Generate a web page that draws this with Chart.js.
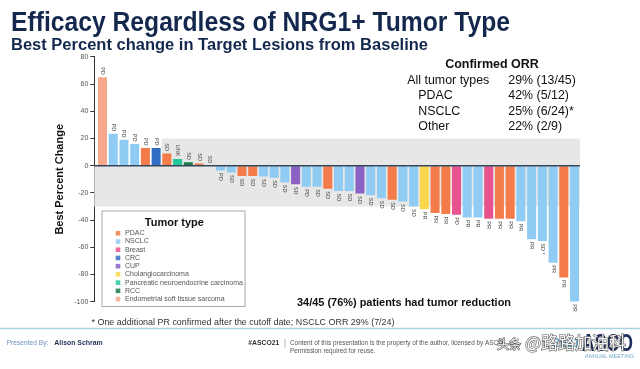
<!DOCTYPE html>
<html><head><meta charset="utf-8">
<script src="https://cdn.jsdelivr.net/npm/chart.js@4.4.1/dist/chart.umd.min.js"></script>
<style>html,body{margin:0;padding:0;background:#fff;overflow:hidden}#wrap{position:relative;width:640px;height:369px}</style>
</head><body><div id="wrap"><canvas id="c" width="640" height="369"></canvas></div>
<script>
// ---------- DATA ----------
const patients = Array.from({length:45}, (_, i) => 'Pt ' + (i + 1));
const bestChange = [65, 23.5, 19, 16, 13, 13, 9, 5, 2.5, 1.7, 0, -3.5, -5, -7.6, -7.6, -8, -8.8, -12.2, -13.7, -15.4,
  -15.4, -17, -18.6, -18.6, -20.5, -21.8, -24, -25, -26.4, -30, -32, -34.7, -35.5, -36, -38, -38, -39, -39, -39, -40.8,
  -54, -55.3, -71.4, -82.2, -100];
const tumorOfPatient = ['Endometrial soft tissue sarcoma','NSCLC','NSCLC','NSCLC','PDAC','CRC','PDAC',
  'Pancreatic neuroendocrine carcinoma','RCC','PDAC','NSCLC','NSCLC','NSCLC','PDAC','PDAC','NSCLC','NSCLC','NSCLC','CUP','NSCLC',
  'NSCLC','PDAC','NSCLC','NSCLC','CUP','NSCLC','NSCLC','PDAC','NSCLC','NSCLC','Cholangiocarcinoma','PDAC','PDAC','Breast','NSCLC',
  'NSCLC','Breast','PDAC','PDAC','NSCLC','NSCLC','NSCLC','NSCLC','PDAC','NSCLC'];
const responseLabels = ['PD','PD','PD','PD','PD','PD','SD','UNK','SD','SD','SD','PD','SD','SD','SD','SD','SD','SD','SD','PD',
  'SD','SD','SD','SD','SD','SD','SD','SD','SD','SD','PR','PR','PR','PD','PR','PR','PR','PR','PR','PR','PR','SD *','PR','PR','PR'];
const tumorTypes = ['PDAC','NSCLC','Breast','CRC','CUP','Cholangiocarcinoma','Pancreatic neuroendocrine carcinoma','RCC','Endometrial soft tissue sarcoma'];
const typeColors = ['#F47C4A','#8FCBF3','#E8528E','#2F6EC4','#8B62C4','#F9D84E','#22C79B','#19794A','#F6A98A'];
const yTickValues = [80, 60, 40, 20, 0, -20, -40, -60, -80, -100];
const orrLabels = ['All tumor types','PDAC','NSCLC','Other'];
const orrValues = ['29% (13/45)','42% (5/12)','25% (6/24)*','22% (2/9)'];
const bandUpper = 20, bandLower = -30;

// ---------- HELPERS ----------
const FONT = '"Liberation Sans", Arial, sans-serif';
function txt(ctx, s, x, y, o) {
  ctx.save();
  ctx.font = (o.weight || 'normal') + ' ' + o.size + 'px ' + (o.family || FONT);
  ctx.fillStyle = o.color || '#000';
  ctx.textBaseline = o.baseline || 'alphabetic';
  ctx.textAlign = o.align || 'left';
  const w = ctx.measureText(s).width;
  const sx = o.width ? o.width / w : 1;
  ctx.translate(x, y);
  if (o.rotate) ctx.rotate(o.rotate);
  ctx.scale(sx, 1);
  ctx.fillText(s, 0, 0);
  ctx.restore();
}
const colorOf = t => typeColors[tumorTypes.indexOf(t)];

const decor = {
  id: 'decor',
  beforeDatasetsDraw(chart) {
    const {ctx, chartArea: a, scales: {x, y}} = chart;
    ctx.save();
    ctx.fillStyle = '#E7E7E7';
    const y20 = y.getPixelForValue(bandUpper), y0 = y.getPixelForValue(0), y30 = y.getPixelForValue(bandLower);
    const xs = x.getPixelForValue(5.5);
    ctx.fillRect(xs, y20, a.right - xs, y0 - y20);
    ctx.fillRect(a.left, y0, a.right - a.left, y30 - y0);
    ctx.restore();
  },
  afterDatasetsDraw(chart) {
    const {ctx, chartArea: a, scales: {x, y}} = chart;
    const y0 = y.getPixelForValue(0);
    // zero line
    ctx.save();
    ctx.strokeStyle = '#34465A';
    ctx.lineWidth = 1.5;
    ctx.beginPath(); ctx.moveTo(a.left, y0); ctx.lineTo(a.right, y0); ctx.stroke();
    ctx.restore();
    // response labels
    bestChange.forEach((v, i) => {
      const px = x.getPixelForValue(i);
      const py = y.getPixelForValue(v);
      ctx.save();
      ctx.font = '5.5px ' + FONT;
      ctx.fillStyle = '#444';
      ctx.textBaseline = 'middle';
      if (v >= 0) { ctx.translate(px, py - 2.5); ctx.rotate(Math.PI / 2); ctx.textAlign = 'right'; }
      else { ctx.translate(px, py + 2.5); ctx.rotate(Math.PI / 2); ctx.textAlign = 'left'; }
      ctx.fillText(responseLabels[i], 0, 0);
      ctx.restore();
    });
    // legend
    ctx.save();
    ctx.fillStyle = '#fff';
    ctx.strokeStyle = '#A8A8A8';
    ctx.lineWidth = 1;
    ctx.fillRect(102, 211, 143, 95.5);
    ctx.strokeRect(102, 211, 143, 95.5);
    ctx.restore();
    txt(ctx, 'Tumor type', 174.3, 222.7, {size: 11, weight: 'bold', color: '#111', align: 'center', baseline: 'middle'});
    tumorTypes.forEach((t, i) => {
      const ry = 233.3 + i * 8.22;
      ctx.fillStyle = typeColors[i];
      ctx.globalAlpha = 0.85;
      ctx.fillRect(115.7, ry - 2.3, 4.6, 4.6);
      ctx.globalAlpha = 1;
      txt(ctx, t, 125, ry, {size: 7, color: '#555', baseline: 'middle'});
    });
    // y axis title
    txt(ctx, 'Best Percent Change', 60, (a.top + a.bottom) / 2, {size: 11, weight: 'bold', color: '#111', align: 'center', baseline: 'middle', rotate: -Math.PI / 2});
  }
};

const page = {
  id: 'page',
  afterDraw(chart) {
    const ctx = chart.ctx;
    txt(ctx, 'Efficacy Regardless of NRG1+ Tumor Type', 11, 31, {size: 27, weight: 'bold', color: '#14284E', width: 499});
    txt(ctx, 'Best Percent change in Target Lesions from Baseline', 11, 50, {size: 16, weight: 'bold', color: '#14284E', width: 417});
    // ORR box
    txt(ctx, 'Confirmed ORR', 492, 65, {size: 12.5, weight: 'bold', color: '#111', align: 'center', baseline: 'middle'});
    orrLabels.forEach((l, i) => {
      const ry = 80.7 + i * 15.3;
      txt(ctx, l, i === 0 ? 407.3 : 418.3, ry, {size: 12.4, color: '#111', baseline: 'middle'});
      txt(ctx, orrValues[i], 508.3, ry, {size: 12.4, color: '#111', baseline: 'middle'});
    });
    txt(ctx, '34/45 (76%) patients had tumor reduction', 297, 303, {size: 11.5, weight: 'bold', color: '#111', baseline: 'middle', width: 214});
    txt(ctx, '* One additional PR confirmed after the cutoff date; NSCLC ORR 29% (7/24)', 91.5, 322.7, {size: 9.5, color: '#333', baseline: 'middle', width: 303});
    // footer
    ctx.save();
    ctx.strokeStyle = '#A9D4E2'; ctx.lineWidth = 1.5;
    ctx.beginPath(); ctx.moveTo(0, 328.5); ctx.lineTo(640, 328.5); ctx.stroke();
    ctx.restore();
    txt(ctx, 'Presented By:', 6.7, 343.5, {size: 6.6, color: '#6C93BC', baseline: 'middle', width: 41.6});
    txt(ctx, 'Alison Schram', 54.3, 343.5, {size: 6.9, weight: 'bold', color: '#1D2F55', baseline: 'middle', width: 48.4});
    txt(ctx, '#ASCO21', 248.3, 343.3, {size: 6.8, weight: 'bold', color: '#333', baseline: 'middle', width: 31});
    ctx.save(); ctx.strokeStyle = '#999'; ctx.lineWidth = 0.7;
    ctx.beginPath(); ctx.moveTo(285, 339); ctx.lineTo(285, 348); ctx.stroke(); ctx.restore();
    txt(ctx, 'Content of this presentation is the property of the author, licensed by ASCO.', 290, 343.3, {size: 6.4, color: '#555', baseline: 'middle'});
    txt(ctx, 'Permission required for reuse.', 290, 351.7, {size: 6.4, color: '#555', baseline: 'middle'});
    // ASCO logo
    txt(ctx, '2021', 553, 347, {size: 12, weight: 'bold', color: '#6FA8C8'});
    txt(ctx, 'ASCO', 582, 351, {size: 23, weight: 'bold', color: '#1B2D5A', width: 51});
    txt(ctx, 'ANNUAL MEETING', 634, 358, {size: 5.5, color: '#6FA8C8', align: 'right'});
    // watermark
    ctx.save();
    ctx.font = '12px "Noto Sans CJK SC"';
    ctx.lineWidth = 1.2; ctx.strokeStyle = 'rgba(60,60,60,0.85)'; ctx.fillStyle = 'rgba(255,255,255,0.95)';
    ctx.textBaseline = 'middle';
    ctx.strokeText('头条', 497, 344); ctx.fillText('头条', 497, 344);
    ctx.font = '17px "Noto Sans CJK SC"';
    ctx.strokeText('@路路加油科', 525, 343); ctx.fillText('@路路加油科', 525, 343);
    ctx.restore();
  }
};

new Chart(document.getElementById('c'), {
  type: 'bar',
  data: {
    labels: patients,
    datasets: [{
      data: bestChange.map((v, i) => ({x: i, y: v})),
      backgroundColor: tumorOfPatient.map(colorOf),
      borderWidth: 0,
      barPercentage: 0.84,
      categoryPercentage: 1
    }]
  },
  options: {
    responsive: false,
    animation: false,
    devicePixelRatio: 1,
    layout: {padding: {left: 0, right: 60, top: 56.9, bottom: 67.3}},
    plugins: {legend: {display: false}, tooltip: {enabled: false}},
    scales: {
      x: {type: 'linear', min: -0.764, max: 44.51, offset: false, display: false},
      y: {
        min: -100, max: 80,
        afterFit(s) { s.width = 94.3; },
        afterBuildTicks(s) { s.ticks = yTickValues.map(v => ({value: v})); },
        ticks: {font: {size: 7, family: FONT}, color: '#555', padding: 2},
        grid: {drawOnChartArea: false, tickLength: 4, color: '#333'},
        border: {color: '#333', width: 1}
      }
    }
  },
  plugins: [decor, page]
});
</script>
</body></html>
